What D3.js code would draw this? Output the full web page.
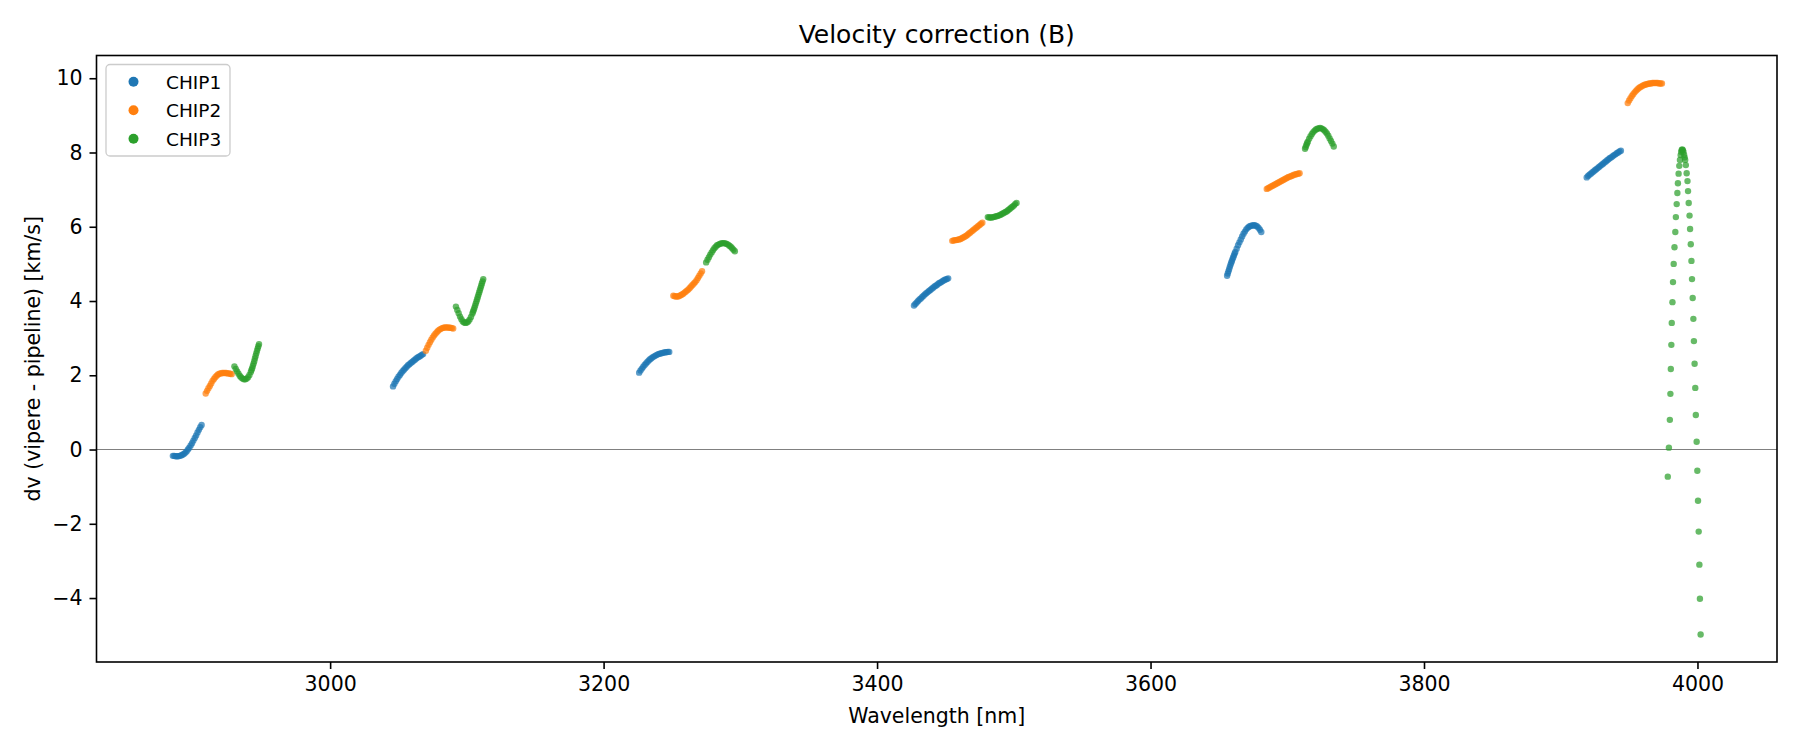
<!DOCTYPE html>
<html>
<head>
<meta charset="utf-8">
<title>Velocity correction (B)</title>
<script src="https://d3js.org/d3.v7.min.js"></script>
<style>
  body { margin: 0; background: #fff; }
  text { font-family: "DejaVu Sans", sans-serif; fill: #000; }
</style>
</head>
<body>
<svg id="chart"></svg>
<script>
// values (wavelength nm, dv km/s)
const chip1Wave = [
  2885,2886,2887,2888,2889,2890,2891,2892,2893,2894,2895,2896,2897,2898,2899,2900,2901,2902,2903,2904,2905,2906,
  3046,3047,3048,3049,3050,3051,3052,3053,3054,3055,3056,3057,3058,3059,3060,3061,3062,3063,3064,3065,3066,3067,3068,
  3226,3227,3228,3229,3230,3231,3232,3233,3234,3235,3236,3237,3238,3239,3240,3241,3242,3243,3244,3245,3246,3247,3248,
  3427,3428,3429,3430,3431,3432,3433,3434,3435,3436,3437,3438,3439,3440,3441,3442,3443,3444,3445,3446,3447,3448,3449,3450,3451,3452,
  3656,3657,3658,3659,3660,3661,3662,3663,3664,3665,3666,3667,3668,3669,3670,3671,3672,3673,3674,3675,3676,3677,3678,3679,3680,3681,
  3919,3920,3921,3922,3923,3924,3925,3926,3927,3928,3929,3930,3931,3932,3933,3934,3935,3936,3937,3938,3939,3940,3941,3942,3943,3944,
  // steep part, read more closely
  3656.5,3657.5,3658.5,3659.5,3660.5,3661.5
];
const chip1Dv = [
  -0.17,-0.17,-0.18,-0.18,-0.18,-0.17,-0.16,-0.14,-0.12,-0.09,-0.05,0.00,0.05,0.11,0.17,0.24,0.31,0.38,0.46,0.53,0.60,0.66,
  1.70,1.77,1.84,1.90,1.96,2.01,2.06,2.11,2.15,2.19,2.23,2.27,2.30,2.33,2.36,2.39,2.42,2.45,2.48,2.50,2.52,2.55,2.57,
  2.07,2.13,2.18,2.23,2.28,2.32,2.36,2.40,2.43,2.46,2.49,2.51,2.53,2.55,2.57,2.58,2.59,2.60,2.61,2.62,2.62,2.63,2.63,
  3.88,3.92,3.96,4.00,4.04,4.07,4.11,4.14,4.18,4.21,4.24,4.27,4.30,4.33,4.36,4.39,4.41,4.44,4.47,4.49,4.51,4.54,4.56,4.58,4.59,4.61,
  4.68,4.80,4.92,5.03,5.13,5.23,5.32,5.41,5.50,5.58,5.66,5.74,5.81,5.87,5.93,5.97,6.00,6.02,6.03,6.04,6.04,6.03,6.01,5.97,5.92,5.86,
  7.33,7.37,7.40,7.43,7.46,7.49,7.52,7.55,7.58,7.61,7.64,7.67,7.70,7.73,7.76,7.79,7.82,7.85,7.87,7.90,7.93,7.95,7.98,8.00,8.03,8.05,
  4.74,4.86,4.98,5.08,5.18,5.28
];

const chip2Wave = [
  2909,2910,2911,2912,2913,2914,2915,2916,2917,2918,2919,2920,2921,2922,2923,2924,2925,2926,2927,2928,
  3070,3071,3072,3073,3074,3075,3076,3077,3078,3079,3080,3081,3082,3083,3084,3085,3086,3087,3088,3089,3090,
  3251,3252,3253,3254,3255,3256,3257,3258,3259,3260,3261,3262,3263,3264,3265,3266,3267,3268,3269,3270,3271,3272,
  3455,3456,3457,3458,3459,3460,3461,3462,3463,3464,3465,3466,3467,3468,3469,3470,3471,3472,3473,3474,3475,3476,3477,
  3685,3686,3687,3688,3689,3690,3691,3692,3693,3694,3695,3696,3697,3698,3699,3700,3701,3702,3703,3704,3705,3706,3707,3708,3709,
  3949,3950,3951,3952,3953,3954,3955,3956,3957,3958,3959,3960,3961,3962,3963,3964,3965,3966,3967,3968,3969,3970,3971,3972,3973,3974
];
const chip2Dv = [
  1.51,1.58,1.65,1.71,1.78,1.85,1.90,1.95,1.99,2.02,2.04,2.05,2.06,2.06,2.06,2.06,2.05,2.05,2.04,2.03,
  2.66,2.74,2.82,2.89,2.96,3.02,3.07,3.12,3.16,3.20,3.23,3.25,3.27,3.28,3.29,3.29,3.29,3.28,3.28,3.27,3.26,
  4.14,4.13,4.12,4.12,4.13,4.15,4.17,4.19,4.22,4.25,4.28,4.31,4.35,4.39,4.43,4.47,4.51,4.56,4.62,4.68,4.74,4.80,
  5.62,5.63,5.64,5.64,5.65,5.66,5.67,5.69,5.71,5.73,5.75,5.78,5.81,5.84,5.87,5.90,5.93,5.96,5.99,6.02,6.05,6.08,6.11,
  7.02,7.04,7.06,7.08,7.10,7.12,7.14,7.16,7.18,7.20,7.22,7.24,7.26,7.28,7.30,7.32,7.34,7.35,7.37,7.38,7.40,7.41,7.42,7.43,7.44,
  9.33,9.40,9.46,9.52,9.57,9.62,9.66,9.70,9.73,9.76,9.78,9.80,9.82,9.83,9.84,9.85,9.86,9.86,9.87,9.87,9.87,9.87,9.87,9.86,9.86,9.86
];

const chip3Wave = [
  2930,2931,2932,2933,2934,2935,2936,2937,2938,2939,2940,2941,2942,2943,2944,2945,2946,2947,2948,
  3092,3093,3094,3095,3096,3097,3098,3099,3100,3101,3102,3103,3104,3105,3106,3107,3108,3109,3110,3111,3112,
  3275,3276,3277,3278,3279,3280,3281,3282,3283,3284,3285,3286,3287,3288,3289,3290,3291,3292,3293,3294,3295,3296,
  3481,3482,3483,3484,3485,3486,3487,3488,3489,3490,3491,3492,3493,3494,3495,3496,3497,3498,3499,3500,3501,3502,
  3713,3714,3715,3716,3717,3718,3719,3720,3721,3722,3723,3724,3725,3726,3727,3728,3729,3730,3731,3732,3733,3734,
  3978.3,3979.1,3979.8,3980.2,3980.5,3980.9,3981.2,3981.7,3982.1,3982.6,3983.2,3983.8,3984.2,3984.8,3985.3,3985.7,3986.2,
  3986.7,3987.2,3987.7,3988.1,3988.5,3988.9,3989.3,3989.7,3990.2,3990.6,3991.0,3991.5,3992.1,3992.7,3993.1,3993.6,3994.2,
  3994.6,3995.1,3995.6,3996.0,3996.5,3997.0,3997.4,3997.9,3998.4,3998.8,3999.4,3999.9,4000.4,4000.9,4001.4,4001.8,4002.3,
  // steep parts, read more closely
  2942.5,2943.5,2944.5,2945.5,2946.5,2947.5,
  3104.5,3105.5,3106.5,3107.5,3108.5,3109.5,3110.5,3111.5,
  3713.5,3714.5
];
const chip3Dv = [
  2.24,2.17,2.10,2.04,1.98,1.94,1.91,1.89,1.89,1.91,1.95,2.01,2.09,2.19,2.31,2.45,2.59,2.72,2.84,
  3.85,3.76,3.67,3.58,3.51,3.45,3.42,3.41,3.42,3.45,3.50,3.57,3.66,3.76,3.87,3.99,4.11,4.23,4.35,4.47,4.59,
  5.04,5.11,5.18,5.25,5.31,5.37,5.42,5.46,5.50,5.52,5.54,5.55,5.56,5.56,5.55,5.54,5.52,5.49,5.46,5.42,5.38,5.34,
  6.26,6.25,6.25,6.25,6.26,6.27,6.28,6.29,6.30,6.32,6.34,6.36,6.38,6.40,6.42,6.45,6.48,6.51,6.54,6.57,6.61,6.64,
  8.10,8.20,8.29,8.37,8.44,8.50,8.55,8.59,8.62,8.64,8.65,8.66,8.65,8.63,8.60,8.56,8.51,8.45,8.38,8.31,8.24,8.16,
  -0.73,0.05,0.80,1.50,2.17,2.82,3.41,3.97,4.51,5.00,5.45,5.86,6.26,6.61,6.91,7.17,7.43,
  7.64,7.80,7.93,8.02,8.07,8.08,8.06,8.02,7.94,7.87,7.80,7.66,7.44,7.23,6.96,6.64,6.30,
  5.94,5.53,5.08,4.59,4.08,3.52,2.92,2.31,1.66,0.93,0.21,-0.57,-1.38,-2.21,-3.10,-4.02,-4.98,
  2.14,2.25,2.38,2.52,2.66,2.78,
  3.71,3.81,3.93,4.05,4.17,4.29,4.41,4.53,
  8.15,8.25
];

const chipNames = ['CHIP1', 'CHIP2', 'CHIP3'];
const chipColors = ['#1f77b4', '#ff7f0e', '#2ca02c'];
const xTicks = [3000, 3200, 3400, 3600, 3800, 4000];
const yTicks = [-4, -2, 0, 2, 4, 6, 8, 10];

const series = [
  {name: chipNames[0], color: chipColors[0], pts: chip1Wave.map((w, i) => [w, chip1Dv[i]])},
  {name: chipNames[1], color: chipColors[1], pts: chip2Wave.map((w, i) => [w, chip2Dv[i]])},
  {name: chipNames[2], color: chipColors[2], pts: chip3Wave.map((w, i) => [w, chip3Dv[i]])}
];

const W = 1800, H = 750;
const margin = {top: 55.5, right: 23, bottom: 88, left: 96.5};
const width = W - margin.left - margin.right;
const height = H - margin.top - margin.bottom;

const svg = d3.select('#chart')
  .attr('width', W)
  .attr('height', H);

const g = svg.append('g')
  .attr('transform', `translate(${margin.left},${margin.top})`);

// matplotlib style 5% padding on data limits
const allPts = series.flatMap(s => s.pts);
const xExt = d3.extent(allPts, d => d[0]);
const yExt = d3.extent(allPts, d => d[1]);
const xPad = (xExt[1] - xExt[0]) * 0.05;
const yPad = (yExt[1] - yExt[0]) * 0.05;

const xScale = d3.scaleLinear()
  .domain([xExt[0] - xPad, xExt[1] + xPad])
  .range([0, width]);

const yScale = d3.scaleLinear()
  .domain([yExt[0] - yPad, yExt[1] + yPad])
  .range([height, 0]);

// zero line
g.append('line')
  .attr('x1', 0)
  .attr('x2', width)
  .attr('y1', yScale(0))
  .attr('y2', yScale(0))
  .attr('stroke', '#808080')
  .attr('stroke-width', 1.1);

// points
series.forEach(s => {
  g.append('g')
    .selectAll('circle')
    .data(s.pts)
    .enter()
    .append('circle')
    .attr('cx', d => xScale(d[0]))
    .attr('cy', d => yScale(d[1]))
    .attr('r', 3.2)
    .attr('fill', s.color)
    .attr('fill-opacity', 0.72);
});

// axes
const xAxis = d3.axisBottom(xScale)
  .tickValues(xTicks)
  .tickSize(7)
  .tickPadding(7)
  .tickFormat(d3.format('d'));

const yAxis = d3.axisLeft(yScale)
  .tickValues(yTicks)
  .tickSize(7)
  .tickPadding(7)
  .tickFormat(d3.format('d'));

const gx = g.append('g')
  .attr('transform', `translate(0,${height})`)
  .call(xAxis);

const gy = g.append('g')
  .call(yAxis);

[gx, gy].forEach(a => {
  a.select('.domain').remove();
  a.selectAll('.tick line').attr('stroke', '#000').attr('stroke-width', 1.6);
  a.selectAll('.tick text')
    .style('font-family', '"DejaVu Sans", sans-serif')
    .style('font-size', '20.5px')
    .attr('fill', '#000');
});

// frame
g.append('rect')
  .attr('x', 0)
  .attr('y', 0)
  .attr('width', width)
  .attr('height', height)
  .attr('fill', 'none')
  .attr('stroke', '#000')
  .attr('stroke-width', 1.6);

// title and labels
svg.append('text')
  .attr('x', margin.left + width / 2)
  .attr('y', 43)
  .attr('text-anchor', 'middle')
  .style('font-size', '25px')
  .text('Velocity correction (B)');

svg.append('text')
  .attr('x', margin.left + width / 2)
  .attr('y', 723)
  .attr('text-anchor', 'middle')
  .style('font-size', '20.5px')
  .text('Wavelength [nm]');

svg.append('text')
  .attr('transform', `translate(40,${margin.top + height / 2}) rotate(-90)`)
  .attr('text-anchor', 'middle')
  .style('font-size', '20.5px')
  .text('dv (vipere - pipeline) [km/s]');

// legend
const legend = svg.append('g')
  .attr('transform', 'translate(106,64.5)');

legend.append('rect')
  .attr('width', 124)
  .attr('height', 91.5)
  .attr('rx', 4)
  .attr('fill', '#fff')
  .attr('fill-opacity', 0.8)
  .attr('stroke', '#cccccc')
  .attr('stroke-width', 1.3);

const rows = legend.selectAll('.legend-row')
  .data(series)
  .enter()
  .append('g')
  .attr('class', 'legend-row')
  .attr('transform', (d, i) => `translate(0,${17.2 + i * 28.5})`);

rows.append('circle')
  .attr('cx', 27.5)
  .attr('cy', 0)
  .attr('r', 5)
  .attr('fill', d => d.color);

rows.append('text')
  .attr('x', 60)
  .attr('y', 6.8)
  .style('font-size', '18.5px')
  .text(d => d.name);
</script>
</body>
</html>
